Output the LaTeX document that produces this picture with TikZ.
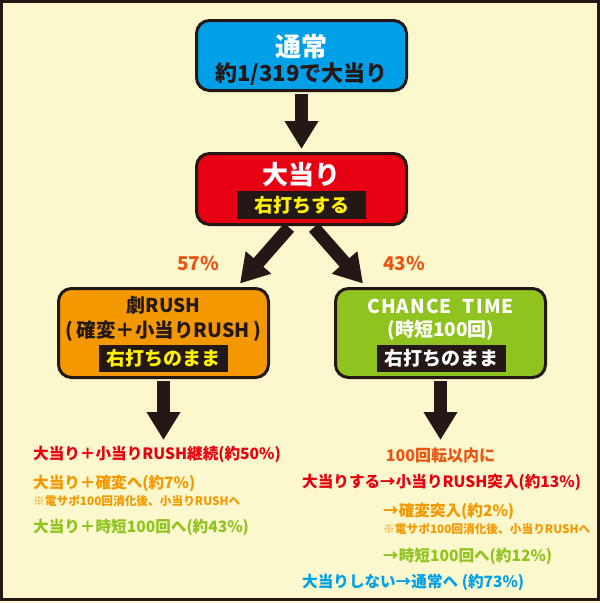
\documentclass[tikz,border=0pt]{standalone}
\usepackage{fontspec}
\setmainfont{Noto Sans CJK JP}
\usetikzlibrary{arrows.meta,calc}
\definecolor{bg}{HTML}{FBF8CD}
\definecolor{ink}{HTML}{231815}
\definecolor{cblue}{HTML}{00A0E9}
\definecolor{cred}{HTML}{E60012}
\definecolor{corange}{HTML}{F39800}
\definecolor{cgreen}{HTML}{8FC31F}
\definecolor{cpct}{HTML}{EA5514}
\definecolor{cyellow}{HTML}{FFF100}
\begin{document}
\begin{tikzpicture}[x=1pt,y=-1pt,
  every node/.style={font=\bfseries, inner sep=0pt},
  box/.style={draw=ink, line width=3pt, rounded corners=13pt, minimum width=210pt},
  lbl/.style={fill=ink, minimum width=129pt, minimum height=28pt},
  bigarrow/.style={draw=ink, line width=13pt, -{Triangle[length=28pt,width=32pt]}},
  title/.style={font=\bfseries\fontsize{26}{26}\selectfont},
  mid/.style={font=\bfseries\fontsize{19}{19}\selectfont},
  body/.style={font=\bfseries\fontsize{15.6}{15.6}\selectfont, anchor=west},
  note/.style={font=\bfseries\fontsize{11.7}{11.7}\selectfont, anchor=west, text=corange}]
\fill[bg] (0,0) rectangle (600,603);
\useasboundingbox (0,0) rectangle (600,603);
\draw[ink, line width=3pt] (1.5,1.5) rectangle (598.5,599.5);

\node[box, fill=cblue, minimum height=70pt] (b1) at (301.5,55.5) {};
\node[box, fill=cred, minimum height=71pt] (b2) at (301.5,189) {};
\node[box, fill=corange, minimum height=89pt] (b3) at (163.5,333) {};
\node[box, fill=cgreen, minimum height=89pt] (b4) at (440.5,333) {};
\coordinate (e3) at (163.5,440);
\coordinate (e4) at (440.5,440);

\draw[bigarrow, shorten <=2pt, shorten >=3pt] (b1.south) -- (b2.north);
\draw[bigarrow, shorten <=2pt] ($(b2.south)+(-11,0)$) -- ($(b3.north)+(76.5,-3.5)$);
\draw[bigarrow, shorten <=2pt] ($(b2.south)+(11,0)$) -- ($(b4.north)+(-77.5,-3.5)$);
\draw[bigarrow, shorten <=2pt] (b3.south) -- (e3);
\draw[bigarrow, shorten <=2pt] (b4.south) -- (e4);

% box 1
\node[title, text=white] (t1) at (301.5,47) {通常};
\node[font=\bfseries\fontsize{22}{22}\selectfont, text=ink] (s1) at (301.5,74) {約1/319で大当り};
% box 2
\node[title, text=white] (t2) at (301.5,175) {大当り};
\node[lbl, mid, text=cyellow] (l2) at (301.5,205) {右打ちする};
% box 3
\node[mid, text=ink] (t3) at (163.5,305) {劇RUSH};
\node[font=\bfseries\fontsize{19.5}{19.5}\selectfont, text=ink] (s3) at (163.5,331) {(\,確変＋小当りRUSH\,)};
\node[lbl, mid, text=cyellow, minimum height=27pt] (l3) at (163.5,358.5) {右打ちのまま};
% box 4
\node[mid, text=white] (t4) at (440.5,306) {\addfontfeature{LetterSpace=6}CHANCE\ \ TIME};
\node[mid, text=white] (s4) at (441,330) {(時短100回)};
\node[lbl, mid, text=white, minimum height=27pt] (l4) at (441.5,358.5) {右打ちのまま};

% percentages
\node[mid, text=cpct] (p1) at (198,263) {57\%};
\node[mid, text=cpct] (p2) at (404,263) {43\%};

% left results
\node[body, text=cred] (r1) at (33,454) {大当り＋小当りRUSH継続(約50\%)};
\node[body, text=corange] (r2) at (33,483) {大当り＋確変へ(約7\%)};
\node[note] (r3) at (33,501) {※電サポ100回消化後、小当りRUSHへ};
\node[body, text=cgreen] (r4) at (33,527) {大当り＋時短100回へ(約43\%)};

% right results
\node[font=\bfseries\fontsize{16}{16}\selectfont, text=cpct] (q0) at (440.5,455) {100回転以内に};
\node[body, text=cred] (q1) at (302,482) {大当りする→小当りRUSH突入(約13\%)};
\node[body, text=corange] (q2) at (383,511) {→確変突入(約2\%)};
\node[note] (q3) at (383,529) {※電サポ100回消化後、小当りRUSHへ};
\node[body, text=cgreen] (q4) at (383,556) {→時短100回へ(約12\%)};
\node[body, text=cblue] (q5) at (302,582) {大当りしない→通常へ (約73\%)};
\end{tikzpicture}
\end{document}
